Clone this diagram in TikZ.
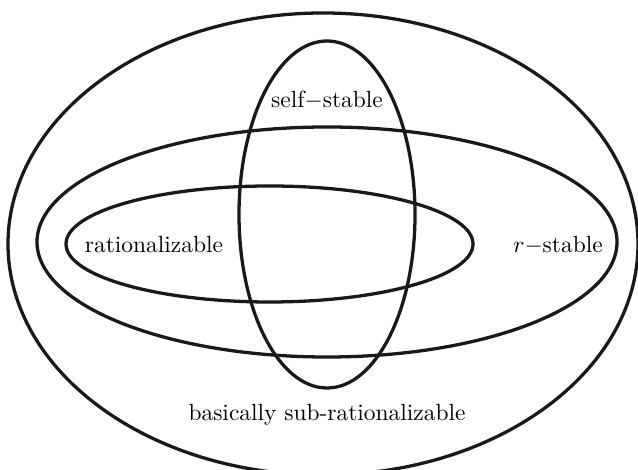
\documentclass[tikz,border=0pt]{standalone}
\usepackage{tikz}
\usetikzlibrary{positioning}
\tikzset{
  setline/.style={draw=black!90, line width=1.4pt},
  setlabel/.style={font=\normalsize, inner sep=1pt}
}
\begin{document}
\begin{tikzpicture}[x=0.015cm, y=0.015cm]
\useasboundingbox (0,0) rectangle (638,470);
\clip (0,0) rectangle (638,470);

%% sets
\draw[setline] (323,226) ellipse [x radius=315, y radius=231];
\draw[setline] (327,228) ellipse [x radius=290, y radius=115];
\draw[setline] (269.5,226) ellipse [x radius=203.5, y radius=58];
\draw[setline] (327,255.5) ellipse [x radius=88, y radius=173.5];

%% labels
\node[setlabel] (selfstable) at (327,370) {self$-$stable};
\node[setlabel] (rational) at (154,225) {rationalizable};
\node[setlabel] (rstable) at (558,225) {$r-$stable};
\node[setlabel] (basic) at (327,55) {basically sub-rationalizable};

\end{tikzpicture}
\end{document}
